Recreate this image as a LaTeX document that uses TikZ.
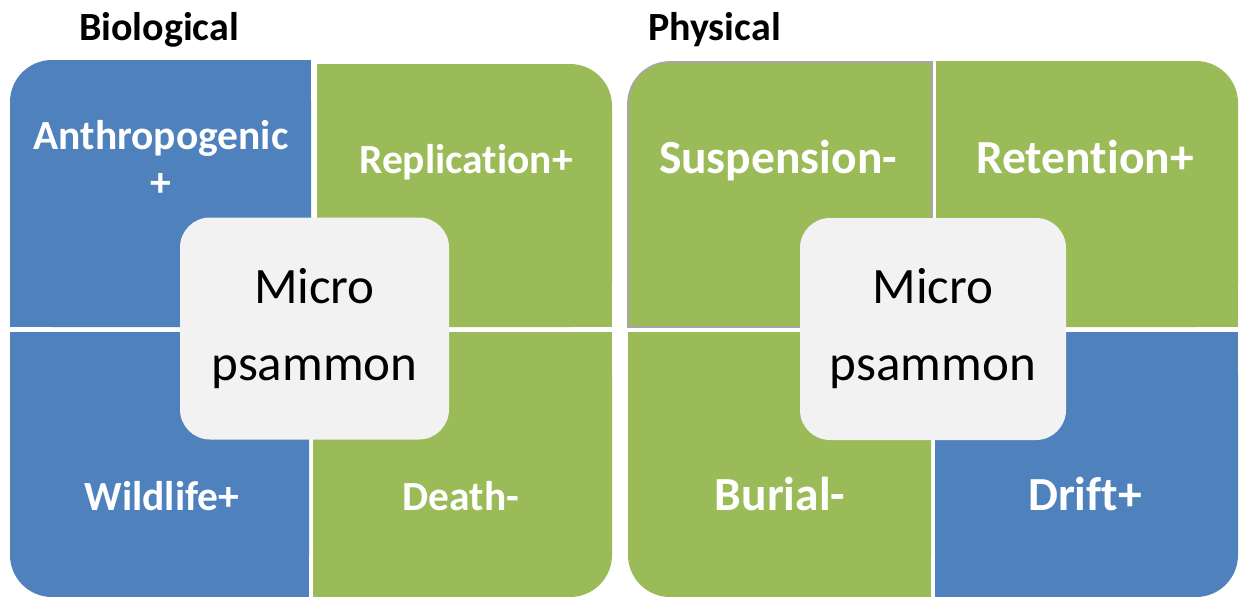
\documentclass[tikz,border=0pt]{standalone}
\usepackage{fontspec}
\setmainfont{Carlito}[Ligatures=NoCommon]
\definecolor{qblue}{HTML}{4F81BD}
\definecolor{qgreen}{HTML}{9BBB59}
\definecolor{cboxfill}{HTML}{F2F2F2}
\definecolor{qgray}{HTML}{A6A6A6}
\newcommand\qtl[5]{\fill[#1,rounded corners=42] (#2,#3) rectangle (#4,#5); \fill[#1] (#2+50,#3) rectangle (#4,#5); \fill[#1] (#2,#3+50) rectangle (#4,#5);}
\newcommand\qtr[5]{\fill[#1,rounded corners=42] (#2,#3) rectangle (#4,#5); \fill[#1] (#2,#3) rectangle (#4-50,#5); \fill[#1] (#2,#3+50) rectangle (#4,#5);}
\newcommand\qbl[5]{\fill[#1,rounded corners=42] (#2,#3) rectangle (#4,#5); \fill[#1] (#2+50,#3) rectangle (#4,#5); \fill[#1] (#2,#3) rectangle (#4,#5-50);}
\newcommand\qbr[5]{\fill[#1,rounded corners=42] (#2,#3) rectangle (#4,#5); \fill[#1] (#2,#3) rectangle (#4-50,#5); \fill[#1] (#2,#3) rectangle (#4,#5-50);}
\begin{document}
\begin{tikzpicture}[x=1pt,y=-1pt,
  labL/.style={text=white,font=\bfseries\fontsize{41.5}{47}\selectfont,align=center,inner sep=0pt},
  labR/.style={text=white,font=\bfseries\fontsize{47.5}{53}\selectfont,align=center,inner sep=0pt},
  ttl/.style={text=black,font=\bfseries\fontsize{40}{46}\selectfont,inner sep=0pt},
  centre/.style={fill=cboxfill,rounded corners=30,minimum width=269,minimum height=222,inner sep=0pt,align=center,font=\fontsize{51}{77}\selectfont,text=black}]
\useasboundingbox (0,0) rectangle (1243,597);
\fill[white] (0,0) rectangle (1243,597);
% left panel
\qtl{qblue}{10}{60}{311}{327}
\qtr{qgreen}{317}{64}{612}{327}
\qbl{qblue}{10}{332}{309}{597}
\qbr{qgreen}{313}{332}{612}{597}
% right panel
\qtl{qgreen}{628}{62}{932}{327}
\draw[qgray,line width=1.8] (932,327) -- (628,327) -- (628,150) [rounded corners=42] -- (628,62) -- (780,62) [sharp corners] -- (932,62) -- cycle;
\qtr{qgreen}{936}{61}{1238}{327}
\qbl{qgreen}{628}{332}{931}{597}
\qbr{qblue}{935}{332}{1238}{597}
% titles
\node[ttl,anchor=base] (bio) at (159,40) {Biological};
\node[ttl,anchor=base west] (phys) at (648,40) {Physical};
% labels
\node[labL] (anth) at (161,158) {Anthropogenic\\+};
\node[labL,anchor=base] (repl) at (466,173) {Replication+};
\node[labL,anchor=base] (wild) at (162,510) {Wildlife+};
\node[labL,anchor=base] (death) at (461,510) {Death-};
\node[labR,anchor=base] (susp) at (778,173) {Suspension-};
\node[labR,anchor=base] (ret) at (1085,173) {Retention+};
\node[labR,anchor=base] (bur) at (780,510) {Burial-};
\node[labR,anchor=base] (drift) at (1085,510) {Drift+};
% centres
\node[centre] (cbio) at (314.5,328.5) {Micro\\psammon};
\node[centre,minimum width=266] (cphys) at (933,329) {Micro\\psammon};
\end{tikzpicture}
\end{document}
